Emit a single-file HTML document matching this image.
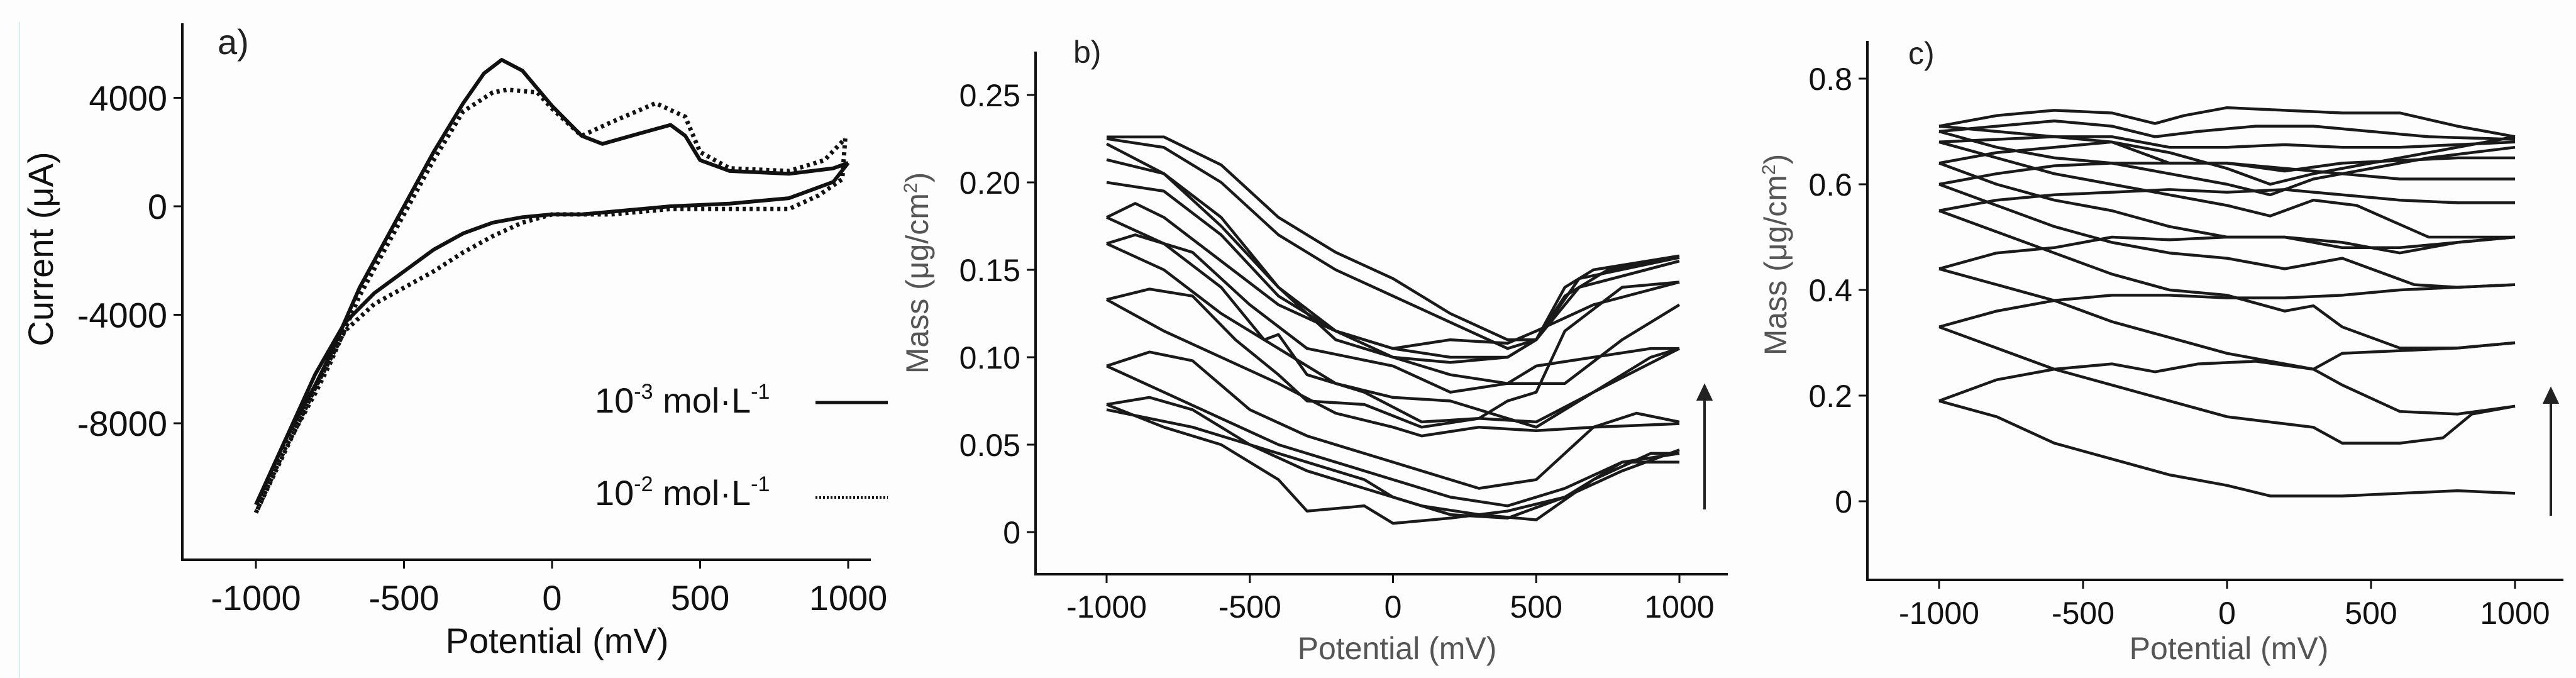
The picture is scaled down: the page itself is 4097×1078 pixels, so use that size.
<!DOCTYPE html>
<html><head><meta charset="utf-8"><style>
html,body{margin:0;padding:0;background:#fdfdfd;}
svg{display:block;font-family:"Liberation Sans",Arial,sans-serif;}
</style></head><body>
<svg id="fig" width="4097" height="1078" viewBox="0 0 4097 1078">
<line x1="31" y1="35" x2="31" y2="1078" stroke="#d8eeee" stroke-width="2"/>
</svg>
<script>
// ---------- Panel a data (mV, µA) ----------
const aTicksX = [-1000,-500,0,500,1000];
const aTicksY = [4000,0,-4000,-8000];
const aSolidFwd = [[-1000,-11000],[-900,-8600],[-800,-6600],[-750,-5500],[-650,-3000],[-500,0],[-400,2000],[-300,3800],[-230,4900],[-170,5400],[-100,5000],[0,3700],[100,2600],[170,2300],[300,2700],[400,3000],[450,2600],[500,1700],[600,1300],[800,1200],[950,1400],[1000,1600]];
const aSolidRev = [[1000,1600],[950,900],[800,300],[600,100],[400,0],[200,-200],[100,-300],[0,-300],[-100,-400],[-200,-600],[-300,-1000],[-400,-1600],[-500,-2400],[-600,-3200],[-700,-4300],[-800,-6200],[-900,-8600],[-1000,-11000]];
const aDotFwd = [[-1000,-11300],[-900,-8900],[-800,-6900],[-750,-5800],[-650,-3300],[-500,-300],[-400,1700],[-300,3500],[-200,4200],[-150,4300],[-50,4200],[0,3600],[100,2600],[200,3100],[350,3800],[450,3300],[500,2000],[600,1400],[800,1300],[920,1700],[990,2500]];
const aDotRev = [[990,2500],[980,1000],[900,400],[800,-100],[600,-100],[400,-100],[200,-300],[0,-300],[-100,-600],[-200,-1100],[-300,-1700],[-400,-2400],[-500,-3000],[-600,-3600],[-700,-4600],[-800,-6700],[-900,-9000],[-1000,-11300]];

// ---------- Panel b data (mV, µg/cm²) ----------
const bTicksX = [-1000,-500,0,500,1000];
const bTicksY = [0.25,0.20,0.15,0.10,0.05,0];
const bTickLabels = ["0.25","0.20","0.15","0.10","0.05","0"];
const bCurves = [
 [[-1000,.226],[-800,.226],[-600,.21],[-400,.18],[-200,.16],[0,.145],[200,.125],[400,.11],[500,.11],[600,.14],[700,.15],[1000,.158]],
 [[-1000,.225],[-800,.22],[-600,.2],[-400,.17],[-200,.15],[0,.135],[200,.12],[400,.105],[500,.11],[600,.135],[750,.15],[1000,.157]],
 [[-1000,.213],[-800,.205],[-600,.18],[-400,.14],[-200,.115],[0,.105],[200,.10],[400,.10],[500,.11],[650,.145],[1000,.157]],
 [[-1000,.222],[-800,.205],[-600,.175],[-400,.14],[-200,.11],[0,.10],[200,.097],[400,.10],[500,.11],[650,.14],[1000,.155]],
 [[-1000,.20],[-800,.195],[-600,.17],[-400,.135],[-200,.115],[0,.105],[200,.11],[400,.108],[500,.115],[700,.13],[1000,.143]],
 [[-1000,.18],[-900,.188],[-800,.18],[-600,.155],[-400,.13],[-200,.115],[0,.10],[200,.09],[400,.085],[600,.085],[800,.11],[1000,.13]],
 [[-1000,.165],[-900,.17],[-700,.16],[-500,.13],[-300,.105],[0,.095],[200,.08],[400,.085],[500,.095],[700,.10],[900,.105],[1000,.105]],
 [[-1000,.18],[-800,.165],[-600,.14],[-450,.11],[-400,.113],[-300,.09],[-100,.08],[100,.063],[300,.065],[400,.075],[500,.08],[600,.115],[800,.14],[1000,.143]],
 [[-1000,.165],[-800,.15],[-600,.125],[-400,.105],[-200,.085],[0,.077],[200,.075],[400,.065],[500,.06],[700,.08],[900,.1],[1000,.105]],
 [[-1000,.133],[-850,.139],[-700,.135],[-550,.11],[-400,.09],[-300,.075],[-100,.073],[100,.06],[300,.065],[500,.063],[700,.08],[1000,.105]],
 [[-1000,.133],[-800,.115],[-600,.10],[-400,.085],[-200,.068],[0,.06],[100,.055],[300,.06],[500,.058],[700,.06],[1000,.062]],
 [[-1000,.095],[-850,.103],[-700,.098],[-500,.07],[-300,.055],[-100,.045],[100,.035],[300,.025],[500,.03],[700,.06],[850,.068],[1000,.063]],
 [[-1000,.095],[-800,.08],[-600,.065],[-400,.05],[-200,.04],[0,.03],[200,.02],[400,.015],[600,.025],[800,.04],[1000,.045]],
 [[-1000,.073],[-850,.077],[-700,.07],[-500,.05],[-300,.035],[-100,.025],[100,.015],[300,.01],[500,.007],[700,.03],[900,.045],[1000,.045]],
 [[-1000,.073],[-800,.06],[-600,.05],[-400,.03],[-300,.012],[-100,.015],[0,.005],[200,.008],[400,.012],[600,.02],[800,.04],[1000,.04]],
 [[-1000,.07],[-700,.06],[-500,.05],[-300,.04],[-100,.03],[0,.02],[200,.01],[400,.008],[600,.02],[800,.035],[1000,.047]]
];

// ---------- Panel c data ----------
const cTicksX = [-1000,-500,0,500,1000];
const cTicksY = [0.8,0.6,0.4,0.2,0];
const cTickLabels = ["0.8","0.6","0.4","0.2","0"];
const cCurves = [
 [[-1000,.19],[-800,.16],[-600,.11],[-400,.08],[-200,.05],[0,.03],[150,.01],[400,.01],[600,.015],[800,.02],[1000,.015]],
 [[-1000,.19],[-800,.23],[-600,.25],[-400,.26],[-250,.245],[-100,.26],[100,.265],[300,.25],[400,.28],[600,.285],[800,.29],[1000,.30]],
 [[-1000,.33],[-800,.29],[-600,.25],[-400,.22],[-200,.19],[0,.16],[150,.15],[300,.14],[400,.11],[600,.11],[750,.12],[850,.165],[1000,.18]],
 [[-1000,.33],[-800,.36],[-600,.38],[-400,.39],[-200,.39],[0,.385],[200,.385],[400,.39],[600,.40],[800,.405],[1000,.41]],
 [[-1000,.44],[-800,.41],[-600,.38],[-400,.34],[-200,.31],[0,.28],[200,.26],[300,.25],[400,.22],[600,.17],[800,.165],[1000,.18]],
 [[-1000,.44],[-800,.47],[-600,.48],[-400,.50],[-200,.495],[0,.50],[200,.50],[400,.48],[600,.48],[800,.49],[1000,.50]],
 [[-1000,.55],[-800,.51],[-600,.47],[-400,.43],[-200,.40],[0,.39],[200,.36],[300,.37],[400,.33],[600,.29],[800,.29],[1000,.30]],
 [[-1000,.55],[-800,.57],[-600,.58],[-400,.585],[-200,.59],[0,.585],[200,.59],[400,.58],[600,.57],[800,.565],[1000,.565]],
 [[-1000,.60],[-800,.56],[-600,.52],[-400,.49],[-200,.47],[0,.46],[200,.44],[400,.46],[500,.44],[650,.41],[800,.405],[1000,.41]],
 [[-1000,.60],[-800,.62],[-600,.635],[-400,.64],[-200,.64],[0,.64],[200,.63],[400,.62],[600,.61],[800,.61],[1000,.61]],
 [[-1000,.64],[-800,.60],[-600,.57],[-400,.55],[-200,.52],[0,.50],[200,.50],[400,.49],[600,.47],[800,.49],[1000,.50]],
 [[-1000,.64],[-800,.66],[-600,.67],[-400,.68],[-200,.64],[0,.64],[200,.625],[400,.64],[600,.645],[800,.65],[1000,.65]],
 [[-1000,.68],[-800,.65],[-600,.62],[-400,.6],[-200,.58],[0,.56],[150,.54],[300,.57],[450,.56],[700,.50],[1000,.50]],
 [[-1000,.68],[-800,.685],[-600,.69],[-400,.69],[-200,.67],[0,.67],[200,.675],[400,.67],[600,.67],[800,.675],[1000,.68]],
 [[-1000,.70],[-800,.67],[-600,.65],[-400,.64],[-200,.62],[0,.60],[150,.58],[300,.61],[500,.63],[700,.65],[1000,.67]],
 [[-1000,.70],[-800,.71],[-600,.72],[-400,.71],[-250,.69],[-100,.70],[100,.71],[300,.71],[500,.70],[700,.69],[1000,.685]],
 [[-1000,.71],[-800,.70],[-600,.69],[-400,.68],[-200,.66],[0,.63],[150,.60],[300,.62],[500,.64],[700,.66],[1000,.69]],
 [[-1000,.71],[-800,.73],[-600,.74],[-400,.735],[-250,.715],[-150,.73],[0,.745],[200,.74],[400,.735],[600,.735],[800,.71],[1000,.69]]
];

const NS = "http://www.w3.org/2000/svg";
const svg = document.getElementById('fig');
function mk(tag, attrs, parent){
  const e = document.createElementNS(NS, tag);
  for (const k in attrs) e.setAttribute(k, attrs[k]);
  (parent||svg).appendChild(e);
  return e;
}
function lin(d0,d1,r0,r1){ return v => r0 + (v-d0)/(d1-d0)*(r1-r0); }
function pathD(pts, sx, sy){ return pts.map((p,i)=>(i?'L':'M')+sx(p[0]).toFixed(1)+','+sy(p[1]).toFixed(1)).join(' '); }

function axes(P){
  const g = mk('g', {});
  
  
  const yl = mk('line', {x1:P.ax, y1:P.top, x2:P.ax, y2:P.ay, stroke:'#111','stroke-width':4}, g);
  
  
  const xl = mk('line', {x1:P.ax-2, y1:P.ay, x2:P.right, y2:P.ay, stroke:'#111','stroke-width':4}, g);
  
  
  P.ticksX.forEach(v=>{
    const x = P.sx(v);
    const t = mk('line',{x1:x,y1:P.ay,x2:x,y2:P.ay+14,stroke:'#111','stroke-width':3},g);
    
    
    const tx = mk('text',{x:x,y:P.ay+P.xlOff,'text-anchor':'middle','font-size':P.fs,fill:'#111'},g);
    tx.textContent = v;
    
    
  });
  P.ticksY.forEach((v,i)=>{
    const y = P.sy(v);
    const t = mk('line',{x1:P.ax-14,y1:y,x2:P.ax,y2:y,stroke:'#111','stroke-width':3},g);
    
    
    const tx = mk('text',{x:P.ax-24,y:y+P.fs*0.36,'text-anchor':'end','font-size':P.fs,fill:'#111'},g);
    tx.textContent = P.yLabels ? P.yLabels[i] : v;
    
    
  });
  const xt = mk('text',{x:P.xtX,y:P.xtY,'text-anchor':'middle','font-size':P.tfs,fill:P.tcol},g);
  xt.textContent = 'Potential (mV)';
  
  
  const yt = mk('text',{x:0,y:0,'text-anchor':'middle','font-size':P.tfs,fill:P.tcol,transform:`translate(${P.ytX},${P.ytY}) rotate(-90)`},g);
  yt.innerHTML = P.ytitle;
  
  
  const pl = mk('text',{x:P.plX,y:P.plY,'font-size':P.fs,fill:'#222'},g);
  pl.textContent = P.label;
  
  
}

// Panel a
const A = {name:'panel-a', ax:290, ay:890, top:37, right:1385, sx:lin(-1000,1000,407,1349), sy:lin(0,4000,328,155.5),
  ticksX:aTicksX, ticksY:aTicksY, fs:56, tfs:56, tcol:'#111', xlOff:80, xtX:886, xtY:1038, ytX:84, ytY:396,
  ytitle:'Current (μA)', label:'a)', plX:346, plY:86};
axes(A);
[[aSolidFwd,'solid-forward'],[aSolidRev,'solid-reverse']].forEach(([d,n])=>{
  const p = mk('path',{d:pathD(d,A.sx,A.sy),fill:'none',stroke:'#111','stroke-width':6,'stroke-linejoin':'round'});
  
  
});
[[aDotFwd,'dotted-forward'],[aDotRev,'dotted-reverse']].forEach(([d,n])=>{
  const p = mk('path',{d:pathD(d,A.sx,A.sy),fill:'none',stroke:'#111','stroke-width':7,'stroke-dasharray':'5 6'});
  
  
});
// legend
const lg = mk('g',{});


const l1 = mk('text',{x:946,y:656,'font-size':56,fill:'#111'},lg);
l1.innerHTML = '10<tspan dy="-22" font-size="34">-3</tspan><tspan dy="22"> mol·L</tspan><tspan dy="-22" font-size="34">-1</tspan>';


const ll1 = mk('line',{x1:1297,y1:640,x2:1412,y2:640,stroke:'#111','stroke-width':5},lg);


const l2 = mk('text',{x:946,y:803,'font-size':56,fill:'#111'},lg);
l2.innerHTML = '10<tspan dy="-22" font-size="34">-2</tspan><tspan dy="22"> mol·L</tspan><tspan dy="-22" font-size="34">-1</tspan>';


const ll2 = mk('line',{x1:1297,y1:791,x2:1412,y2:791,stroke:'#111','stroke-width':4,'stroke-dasharray':'3 3'},lg);



// Panel b
const B = {name:'panel-b', ax:1647, ay:913, top:82, right:2748, sx:lin(-1000,1000,1760,2671), sy:lin(0,0.25,846,151),
  ticksX:bTicksX, ticksY:bTicksY, yLabels:bTickLabels, fs:50, tfs:50, tcol:'#555', xlOff:69, xtX:2222, xtY:1048, ytX:1476, ytY:434,
  ytitle:'Mass (μg/cm<tspan dy="-18" font-size="30">2</tspan><tspan dy="18">)</tspan>', label:'b)', plX:1707, plY:100};
axes(B);
bCurves.forEach((c,i)=>{
  const p = mk('path',{d:pathD(c,B.sx,B.sy),fill:'none',stroke:'#1a1a1a','stroke-width':4.5,'stroke-linejoin':'round'});
  
  
});
const ab = mk('path',{d:'M2711,810 L2711,625 M2701,635 L2711,614 L2721,635 Z',stroke:'#222','stroke-width':4,fill:'#222'});



// Panel c
const C = {name:'panel-c', ax:2970, ay:922, top:65, right:4077, sx:lin(-1000,1000,3084,4000), sy:lin(0,0.8,797,125),
  ticksX:cTicksX, ticksY:cTicksY, yLabels:cTickLabels, fs:50, tfs:50, tcol:'#555', xlOff:70, xtX:3545, xtY:1048, ytX:2841, ytY:405,
  ytitle:'Mass (μg/cm<tspan dy="-18" font-size="30">2</tspan><tspan dy="18">)</tspan>', label:'c)', plX:3035, plY:102};
axes(C);
cCurves.forEach((c,i)=>{
  const p = mk('path',{d:pathD(c,C.sx,C.sy),fill:'none',stroke:'#1a1a1a','stroke-width':4.5,'stroke-linejoin':'round'});
  
  
});
const ac = mk('path',{d:'M4057,820 L4057,630 M4047,640 L4057,619 L4067,640 Z',stroke:'#222','stroke-width':4,fill:'#222'});


</script>
</body></html>
